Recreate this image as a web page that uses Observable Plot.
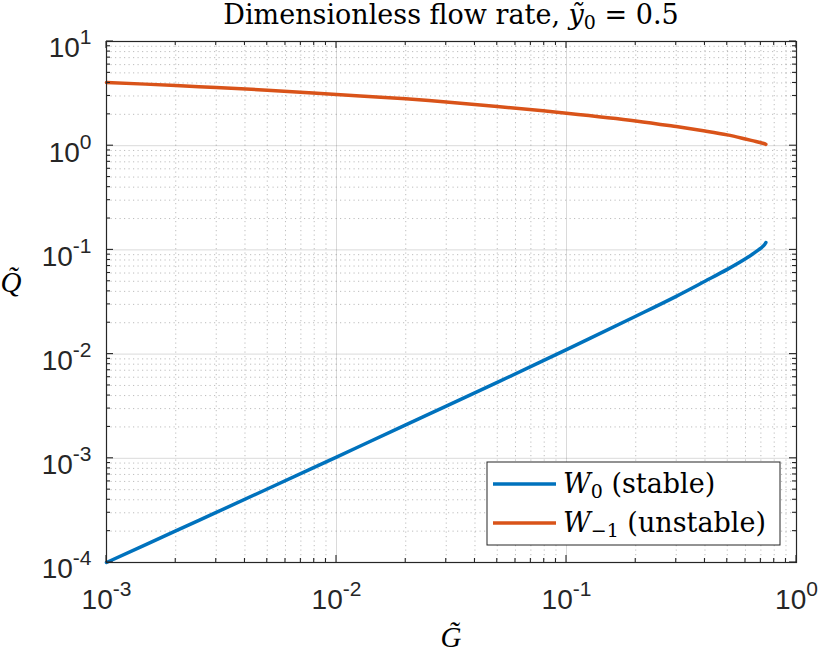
<!DOCTYPE html>
<html><head><meta charset="utf-8">
<script src="https://cdn.jsdelivr.net/npm/d3@7"></script>
<script src="https://cdn.jsdelivr.net/npm/@observablehq/plot@0.6"></script>
<style>
body{margin:0;background:#fff;}
#chart svg{display:block;}
</style></head><body><div id="chart"></div>
<script>
// ---- data ----
const G = [0.001, 0.002, 0.003, 0.005, 0.01, 0.02, 0.03, 0.05, 0.1, 0.2, 0.3, 0.4, 0.5, 0.6, 0.65, 0.7, 0.72, 0.7358];
const Qstable = [1.000e-4, 2.008e-4, 3.024e-4, 5.075e-4, 1.028e-3, 2.09e-3, 3.165e-3, 5.35e-3, 1.105e-2, 2.31e-2, 3.585e-2, 5.00e-2, 6.50e-2, 8.22e-2, 9.25e-2, 0.1040, 0.1098, 0.1175];
const Qunstable = [4.05, 3.78, 3.61, 3.41, 3.10, 2.82, 2.63, 2.38, 2.05, 1.73, 1.525, 1.383, 1.27, 1.16, 1.112, 1.067, 1.049, 1.03];
const seriesKeys = ["stable", "unstable"];
const xTicks = [1e-3, 1e-2, 1e-1, 1e0];
const xTickLabels = ["10^-3", "10^-2", "10^-1", "10^0"];
const yTicks = [1e-4, 1e-3, 1e-2, 1e-1, 1e0, 1e1];
const yTickLabels = ["10^-4", "10^-3", "10^-2", "10^-1", "10^0", "10^1"];
const colors = ["#0072BD", "#D95319"];

(function () {
const rows = [];
G.forEach((g, i) => {
  rows.push({G: g, Q: Qstable[i], s: seriesKeys[0]});
  rows.push({G: g, Q: Qunstable[i], s: seriesKeys[1]});
});
function minorOf(majors) {
  const out = [];
  for (let i = 0; i < majors.length - 1; i++)
    for (let k = 2; k <= 9; k++) out.push(majors[i] * k);
  return out;
}
const xMinor = minorOf(xTicks), yMinor = minorOf(yTicks);

const W = 822, H = 652, mL = 106, mR = 26, mT = 41, mB = 90;
const ink = "#262626";
const FS = 28;

const plot = Plot.plot({
  width: W, height: H,
  marginLeft: mL, marginRight: mR, marginTop: mT, marginBottom: mB,
  style: {fontFamily: "'Liberation Sans', Arial, Helvetica, sans-serif", fontSize: FS + "px", color: ink, background: "#fff"},
  x: {type: "log", domain: [1e-3, 1], label: null},
  y: {type: "log", domain: [1e-4, 10], label: null},
  color: {domain: seriesKeys, range: colors},
  marks: [
    Plot.gridX(xMinor, {stroke: ink, strokeOpacity: 0.38, strokeWidth: 0.8, strokeDasharray: "1.2,3.3"}),
    Plot.gridY(yMinor, {stroke: ink, strokeOpacity: 0.38, strokeWidth: 0.8, strokeDasharray: "1.2,3.3"}),
    Plot.gridX(xTicks, {stroke: ink, strokeOpacity: 0.17, strokeWidth: 1}),
    Plot.gridY(yTicks, {stroke: ink, strokeOpacity: 0.17, strokeWidth: 1}),
    Plot.line(rows, {x: "G", y: "Q", z: "s", stroke: "s", strokeWidth: 3.5, curve: "catmull-rom"}),
    Plot.frame({stroke: ink, strokeWidth: 1.2}),
    Plot.axisX(xTicks, {anchor: "bottom", tickSize: 0, tickPadding: 27, tickFormat: d => xTickLabels[xTicks.indexOf(d)], fill: ink}),
    Plot.axisY(yTicks, {anchor: "left", tickSize: 0, tickPadding: 15, dy: 7, tickFormat: d => yTickLabels[yTicks.indexOf(d)], fill: ink})
  ]
});
document.getElementById("chart").appendChild(plot);

const svg = d3.select(plot);
svg.selectAll("g[aria-label='x-axis tick label'] text, g[aria-label='y-axis tick label'] text").each(function () {
  const t = d3.select(this);
  const parts = t.text().split("^");
  if (parts.length < 2) return;
  t.text(null);
  t.append("tspan").text(parts[0]);
  t.append("tspan").attr("dy", -13).attr("font-size", 21).text(parts[1]);
});

// inward tick marks on all four sides
const xs = plot.scale("x"), ys = plot.scale("y");
const pL = mL, pR = W - mR, pT = mT, pB = H - mB;
const tg = svg.append("g").attr("stroke", ink).attr("stroke-width", 1.1);
function xt(vals, len) {
  vals.forEach(v => {
    const x = xs.apply(v);
    tg.append("line").attr("x1", x).attr("x2", x).attr("y1", pB).attr("y2", pB - len);
    tg.append("line").attr("x1", x).attr("x2", x).attr("y1", pT).attr("y2", pT + len);
  });
}
function yt(vals, len) {
  vals.forEach(v => {
    const y = ys.apply(v);
    tg.append("line").attr("y1", y).attr("y2", y).attr("x1", pL).attr("x2", pL + len);
    tg.append("line").attr("y1", y).attr("y2", y).attr("x1", pR).attr("x2", pR - len);
  });
}
xt(xTicks, 7); xt(xMinor, 4); yt(yTicks, 7); yt(yMinor, 4);

const serif = "'DejaVu Serif', 'Liberation Serif', serif";
const serif2 = "'Liberation Serif', 'Times New Roman', serif";
// title
const title = svg.append("text").attr("x", (pL + pR) / 2).attr("y", 24)
  .attr("text-anchor", "middle").attr("font-family", serif).attr("font-size", 27).attr("fill", "#000");
title.append("tspan").text("Dimensionless flow rate, ");
title.append("tspan").attr("font-style", "italic").text("y\u0303");
title.append("tspan").attr("font-size", 19).attr("dy", 5).text("0");
title.append("tspan").attr("dy", -5).text(" = 0.5");

// axis labels
svg.append("text").attr("x", (pL + pR) / 2).attr("y", 647).attr("text-anchor", "middle")
  .attr("font-family", serif2).attr("font-style", "italic").attr("font-size", 29).attr("fill", "#000").text("G\u0303");
svg.append("text").attr("x", 11).attr("y", 292).attr("text-anchor", "middle")
  .attr("font-family", serif2).attr("font-style", "italic").attr("font-size", 29).attr("fill", "#000").text("Q\u0303");

// legend
const lg = svg.append("g");
lg.append("rect").attr("x", 487).attr("y", 462).attr("width", 293).attr("height", 83)
  .attr("fill", "#fff").attr("stroke", ink).attr("stroke-width", 1);
const legendRows = [
  {sub: "0", rest: " (stable)", y: 484},
  {sub: "\u22121", rest: " (unstable)", y: 523}
];
legendRows.forEach((r, i) => {
  lg.append("line").attr("x1", 493).attr("x2", 556).attr("y1", r.y).attr("y2", r.y)
    .attr("stroke", colors[i]).attr("stroke-width", 3.5);
  const t = lg.append("text").attr("x", 563).attr("y", r.y + 9).attr("text-anchor", "start")
    .attr("font-family", serif).attr("font-size", 27).attr("fill", "#000");
  t.append("tspan").attr("font-style", "italic").text("W");
  t.append("tspan").attr("font-size", 19).attr("dy", 5).text(r.sub);
  t.append("tspan").attr("dy", -5).text(r.rest);
});
})();
</script>
</body></html>
